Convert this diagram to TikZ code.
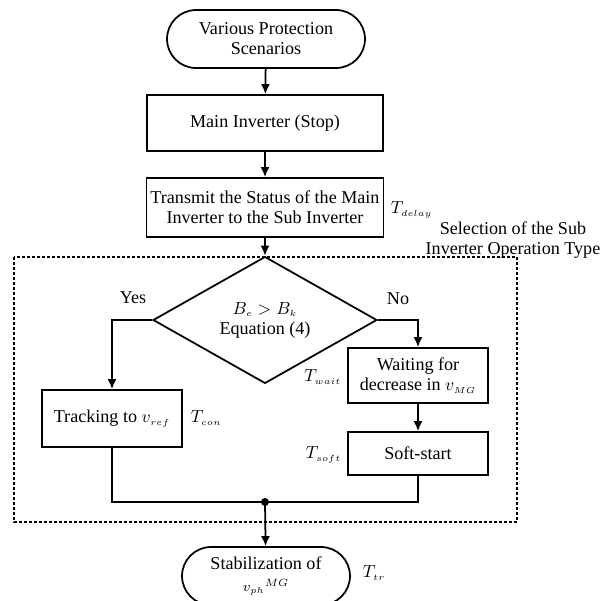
\documentclass[tikz,border=0pt]{standalone}
\usepackage{fontspec}
\setmainfont{Liberation Serif}
\usetikzlibrary{shapes.geometric,arrows.meta}
\newcommand{\lowsub}[1]{_{\scriptscriptstyle #1}}

\begin{document}
\begin{tikzpicture}
[-,line width=1pt,>={Latex[length=0.2cm,width=0.18cm]},%
  x=0.02cm,y=-0.02cm,%
  every node/.style={inner sep=1pt,align=center},%
  term/.style={shape=rectangle,draw,rounded corners=0.58cm,minimum height=1.16cm},%
  proc/.style={shape=rectangle,draw},%
  dec/.style={shape=diamond,draw,inner sep=0pt,minimum width=4.48cm,minimum height=1.68cm},%
  tlabel/.style={inner sep=0pt}]
\fontsize{10.3}{11.4}\selectfont
\useasboundingbox (0,0) rectangle (603,600);
\node[term,minimum width=3.96cm] (start) at (266,39) {Various Protection\\Scenarios};
\node[proc,minimum width=4.72cm,minimum height=1.12cm] (main) at (265,123) {Main Inverter (Stop)};
\node[proc,minimum width=4.74cm,minimum height=1.18cm] (send) at (265,207.5) {Transmit the Status of the Main\\Inverter to the Sub Inverter};
\node[tlabel,anchor=west] (tdelay) at (390,210) {$T\lowsub{delay}$};
\node (select) at (513,240) {Selection of the Sub\\Inverter Operation Type};
\draw[line width=0.8pt,dash pattern=on 0.06cm off 0.04cm] (14,257) rectangle (517,522);
\node[dec] (check) at (265,320) {$B\lowsub{e}>B\lowsub{k}$\\Equation (4)};
\node (yes) at (133,298) {Yes};
\node (no) at (398,299) {No};
\node[proc,minimum width=2.8cm,minimum height=1.14cm] (track) at (112,418.5) {Tracking to $v\lowsub{ref}$};
\node[tlabel,anchor=west] (tcon) at (190,418) {$T\lowsub{con}$};
\node[proc,minimum width=2.8cm,minimum height=1.1cm] (wait) at (418,375.5) {Waiting for\\decrease in $v\lowsub{MG}$};
\node[tlabel,anchor=east] (twait) at (342,377) {$T\lowsub{wait}$};
\node[proc,minimum width=2.8cm,minimum height=0.86cm] (soft) at (418,453.5) {Soft-start};
\node[tlabel,anchor=east] (tsoft) at (342,455) {$T\lowsub{soft}$};
\coordinate (join) at (265,502);
\node[term,minimum width=3.36cm] (stab) at (266,576) {Stabilization of\\[1pt]{\footnotesize$v\lowsub{ph}{}^{MG}$}};
\node[tlabel,anchor=west] (ttr) at (362,573) {$T\lowsub{tr}$};
\draw[->] (start) -- (main);
\draw[->] (main) -- (send);
\draw[->] (send) -- (check);
\draw[->] (check.west) -| (track);
\draw[->] (check.east) -| (wait);
\draw[->] (wait) -- (soft);
\draw (track) |- (join);
\draw (soft) |- (join);
\fill (join) circle (0.08cm);
\draw[->] (join) -- (stab);
\end{tikzpicture}
\end{document}
